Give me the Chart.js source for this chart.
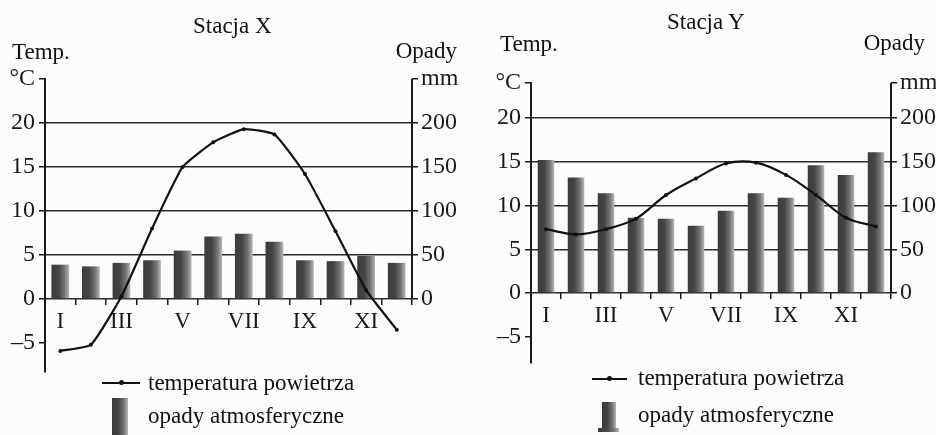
<!DOCTYPE html>
<html>
<head>
<meta charset="utf-8">
<script src="https://cdn.jsdelivr.net/npm/chart.js@4.4.1/dist/chart.umd.min.js"></script>
<style>
    body { margin: 0; background: #fcfcfc; }
    #page { position: relative; width: 936px; height: 435px; overflow: hidden; font-family: "Liberation Serif", "Times New Roman", serif; color: #111; }
    .box { position: absolute; top: 0; height: 435px; }
    .txt { position: absolute; font-size: 23px; line-height: 23px; white-space: nowrap; }
    .legLine { position: absolute; height: 2px; background: #111; }
    .legDot { position: absolute; width: 5px; height: 5px; border-radius: 50%; background: #111; }
    .legBar { position: absolute; background: linear-gradient(to right, #3a3a3a, #444 40%, #777 75%, #b5b5b5); }
</style>
</head>
<body>
<div id="page">
    <div class="box" style="left:0; width:468px;"><canvas id="chartX"></canvas></div>
    <div class="box" style="left:468px; width:468px;"><canvas id="chartY"></canvas></div>

    <div class="txt" style="left:193px; top:14px;">Stacja X</div>
    <div class="txt" style="left:12px; top:40px;">Temp.</div>
    <div class="txt" style="right:479px; top:39px;">Opady</div>

    <div class="txt" style="left:667px; top:10px;">Stacja Y</div>
    <div class="txt" style="left:500px; top:32px;">Temp.</div>
    <div class="txt" style="right:11px; top:31px;">Opady</div>

    <!-- legend X -->
    <div class="legLine" style="left:102px; top:382px; width:38px;"></div>
    <div class="legDot" style="left:119px; top:380px;"></div>
    <div class="txt" style="left:148px; top:371px;">temperatura powietrza</div>
    <div class="legBar" style="left:112px; top:398px; width:16px; height:37px;"></div>
    <div class="txt" style="left:148px; top:404px;">opady atmosferyczne</div>

    <!-- legend Y -->
    <div class="legLine" style="left:592px; top:378px; width:35px;"></div>
    <div class="legDot" style="left:607px; top:376px;"></div>
    <div class="txt" style="left:638px; top:366px;">temperatura powietrza</div>
    <div class="legBar" style="left:602px; top:402px; width:14px; height:27px;"></div>
    <div class="legBar" style="left:598px; top:428px; width:21px; height:4px;"></div>
    <div class="txt" style="left:638px; top:403px;">opady atmosferyczne</div>
</div>

<script>
// months (roman numerals), only odd ones are shown under the axis
const months = ['I', 'II', 'III', 'IV', 'V', 'VI', 'VII', 'VIII', 'IX', 'X', 'XI', 'XII'];

// Stacja X
const tempX = [-5.9, -5.2, 0.3, 8.0, 15.0, 17.8, 19.3, 18.7, 14.2, 7.7, 1.0, -3.5];
const precipX = [39, 37, 41, 44, 55, 71, 74, 65, 44, 43, 49, 41];

// Stacja Y
const tempY = [7.3, 6.7, 7.3, 8.5, 11.2, 13.1, 14.8, 14.9, 13.5, 11.2, 8.6, 7.6];
const precipY = [152, 132, 114, 86, 85, 77, 94, 114, 109, 146, 135, 161];

// axis ticks
const tempTicksX = [-5, 0, 5, 10, 15, 20, 25];
const precipTicksX = [0, 50, 100, 150, 200, 250];
const tempTicksY = [-5, 0, 5, 10, 15, 20, 24];
const precipTicksY = [0, 50, 100, 150, 200, 240];

const ink = '#1a1a1a';
const tickFont = {family: '"Liberation Serif", "Times New Roman", serif', size: 24};
const monthFont = {family: '"Liberation Serif", "Times New Roman", serif', size: 23};

// right axis only runs from the top down to 0
const rightAxisLine = {
    id: 'rightAxisLine',
    afterDraw(chart) {
        const {ctx, chartArea, scales} = chart;
        const y0 = scales.y.getPixelForValue(0);
        ctx.save();
        ctx.strokeStyle = ink;
        ctx.lineWidth = 2;
        ctx.beginPath();
        ctx.moveTo(chartArea.right, chartArea.top);
        ctx.lineTo(chartArea.right, y0);
        ctx.stroke();
        ctx.restore();
    }
};

function barFill(barPct) {
    return function (c) {
        const chart = c.chart;
        const xs = chart.scales.x;
        if (!chart.chartArea || !xs) return '#555';
        const x = xs.getPixelForValue(c.dataIndex);
        const half = xs.width / months.length * barPct / 2;
        const g = chart.ctx.createLinearGradient(x - half, 0, x + half, 0);
        g.addColorStop(0, '#3c3c3c');
        g.addColorStop(0.4, '#444');
        g.addColorStop(0.75, '#777');
        g.addColorStop(1, '#b8b8b8');
        return g;
    };
}

function makeChart(id, temps, precip, s) {
    const ctx = document.getElementById(id);
    return new Chart(ctx, {
        data: {
            labels: months,
            datasets: [
                {
                    type: 'line',
                    label: 'temperatura powietrza',
                    data: temps,
                    yAxisID: 'y',
                    order: 0,
                    borderColor: '#111',
                    borderWidth: 2.2,
                    pointRadius: 2,
                    pointBackgroundColor: '#111',
                    pointBorderWidth: 0,
                    tension: s.tension
                },
                {
                    type: 'bar',
                    label: 'opady atmosferyczne',
                    data: precip,
                    yAxisID: 'y1',
                    order: 1,
                    backgroundColor: barFill(s.barPct),
                    categoryPercentage: 1,
                    barPercentage: s.barPct
                }
            ]
        },
        options: {
            responsive: true,
            maintainAspectRatio: false,
            animation: false,
            layout: {padding: {top: s.top, bottom: s.bottom, left: 0, right: 0}},
            plugins: {legend: {display: false}, title: {display: false}, tooltip: {enabled: false}},
            scales: {
                x: {
                    type: 'category',
                    position: {y: 0},
                    offset: true,
                    border: {display: false},
                    grid: {drawOnChartArea: false, drawTicks: true, tickLength: 6, offset: true, tickColor: ink, lineWidth: 1.5},
                    ticks: {
                        autoSkip: false, maxRotation: 0, padding: 3, color: ink, font: monthFont,
                        callback: (v, i) => i % 2 === 0 ? months[i] : ''
                    }
                },
                y: {
                    position: 'left',
                    min: s.tMin, max: s.tMax,
                    afterBuildTicks: sc => { sc.ticks = s.tTicks.map(v => ({value: v})); },
                    afterFit: sc => { sc.width = s.left; },
                    border: {display: true, color: ink, width: 2},
                    grid: {
                        color: c => (c.tick && c.tick.value >= 0 && c.tick.value <= 20) ? '#2a2a2a' : 'rgba(0,0,0,0)',
                        tickColor: ink, tickLength: 6, lineWidth: 1.5
                    },
                    ticks: {
                        color: ink, font: tickFont, padding: 4,
                        callback: v => v === s.tMax ? '\u00B0C' : (v < 0 ? '\u2013' + Math.abs(v) : v)
                    }
                },
                y1: {
                    position: 'right',
                    min: s.pMin, max: s.pMax,
                    afterBuildTicks: sc => { sc.ticks = s.pTicks.map(v => ({value: v})); },
                    afterFit: sc => { sc.width = s.right; },
                    border: {display: false},
                    grid: {drawOnChartArea: false, tickColor: ink, tickLength: 6, lineWidth: 1.5},
                    ticks: {
                        color: ink, font: tickFont, padding: 3,
                        callback: v => v === s.pMax ? 'mm' : v
                    }
                }
            }
        },
        plugins: [rightAxisLine]
    });
}

makeChart('chartX', tempX, precipX, {
    top: 79, bottom: 63, left: 45, right: 56,
    tMin: -8.3, tMax: 25, tTicks: tempTicksX,
    pMin: -83, pMax: 250, pTicks: precipTicksX,
    barPct: 0.58, tension: 0.15
});

makeChart('chartY', tempY, precipY, {
    top: 83, bottom: 72, left: 63, right: 45,
    tMin: -8, tMax: 24, tTicks: tempTicksY,
    pMin: -80, pMax: 240, pTicks: precipTicksY,
    barPct: 0.55, tension: 0.35
});
</script>
</body>
</html>
